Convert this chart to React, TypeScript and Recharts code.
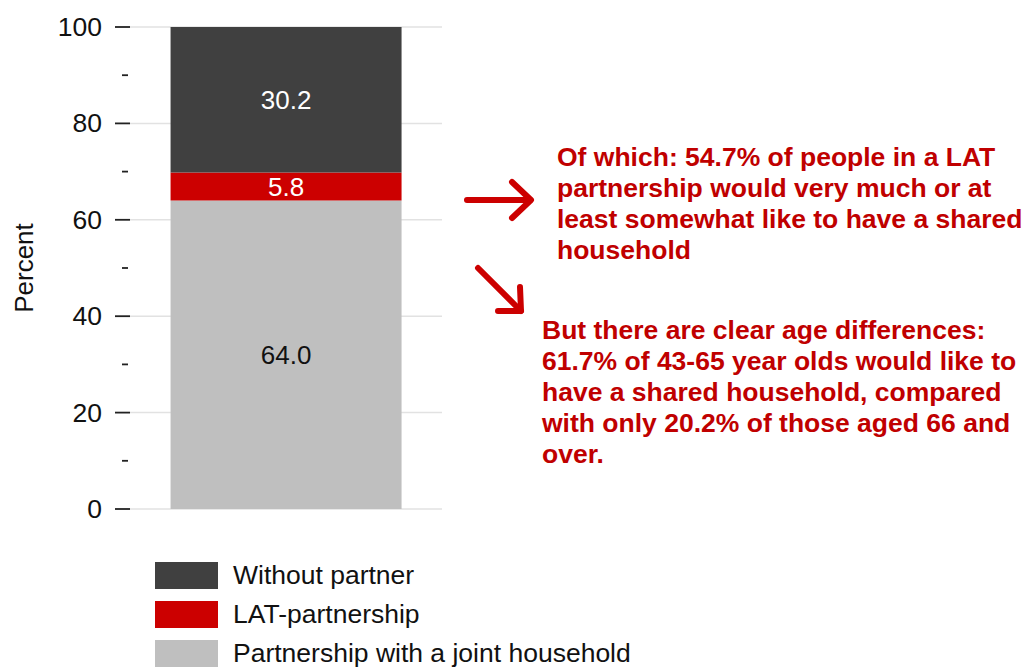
import { BarChart, Bar, XAxis, YAxis, CartesianGrid, LabelList } from 'recharts';

const categories = [''];
const withoutPartner = [30.2];
const latPartnership = [5.8];
const jointHousehold = [64.0];
const yTicks = [0, 10, 20, 30, 40, 50, 60, 70, 80, 90, 100];
const majorTicks = [0, 20, 40, 60, 80, 100];

const noteOne = [
  'Of which: 54.7% of people in a LAT',
  'partnership would very much or at',
  'least somewhat like to have a shared',
  'household',
];
const noteTwo = [
  'But there are clear age differences:',
  '61.7% of 43-65 year olds would like to',
  'have a shared household, compared',
  'with only 20.2% of those aged 66 and',
  'over.',
];

const colors = {
  without: '#404040',
  lat: '#cc0000',
  joint: '#bfbfbf',
};

const legendItems = [
  { label: 'Without partner', color: colors.without },
  { label: 'LAT-partnership', color: colors.lat },
  { label: 'Partnership with a joint household', color: colors.joint },
];

const data = categories.map((c, i) => ({
  name: c,
  joint: jointHousehold[i],
  lat: latPartnership[i],
  without: withoutPartner[i],
}));

const FONT = '"Liberation Sans", Arial, sans-serif';

// y axis tick: long dash + label for majors, short dash for minors
function YTick(props: any) {
  const { x, y, payload } = props;
  const v = payload.value;
  if (majorTicks.includes(v)) {
    return (
      <g>
        <line x1={x - 15} x2={x} y1={y} y2={y} stroke="#222" strokeWidth={1.8} />
        <text x={x - 28} y={y} dy={9} textAnchor="end" fontSize={26.5} fill="#111" fontFamily={FONT}>
          {v}
        </text>
      </g>
    );
  }
  return <line x1={x - 8} x2={x - 2} y1={y} y2={y} stroke="#222" strokeWidth={1.8} />;
}

const fmt = (v: any) => Number(v).toFixed(1);

export default function App() {
  return (
    <div style={{ position: 'absolute', left: 0, top: 0, width: 1027, height: 669, background: '#fff', fontFamily: FONT }}>
      <BarChart
        width={1027}
        height={669}
        data={data}
        margin={{ top: 27, right: 585, bottom: 160, left: 50 }}
        barCategoryGap="13%"
      >
        <CartesianGrid vertical={false} horizontalValues={majorTicks} stroke="#e2e2e2" strokeWidth={1.5} />
        <XAxis dataKey="name" hide />
        <YAxis
          width={80}
          domain={[0, 100]}
          ticks={yTicks}
          interval={0}
          axisLine={false}
          tickLine={false}
          tickSize={0}
          tickMargin={0}
          tick={<YTick />}
        />
        <Bar dataKey="joint" stackId="a" fill={colors.joint} isAnimationActive={false}>
          <LabelList dataKey="joint" position="center" fill="#111" fontSize={26} fontFamily={FONT} formatter={fmt} />
        </Bar>
        <Bar dataKey="lat" stackId="a" fill={colors.lat} isAnimationActive={false}>
          <LabelList dataKey="lat" position="center" fill="#fff" fontSize={26} fontFamily={FONT} formatter={fmt} />
        </Bar>
        <Bar dataKey="without" stackId="a" fill={colors.without} isAnimationActive={false}>
          <LabelList dataKey="without" position="center" fill="#fff" fontSize={26} fontFamily={FONT} formatter={fmt} />
        </Bar>
      </BarChart>

      <svg width={1027} height={669} style={{ position: 'absolute', left: 0, top: 0, pointerEvents: 'none' }}>
        <text x={33} y={268} transform="rotate(-90 33 268)" textAnchor="middle" fontSize={26} fill="#111" fontFamily={FONT}>
          Percent
        </text>
        <g stroke={colors.lat} strokeWidth={6} strokeLinecap="round" strokeLinejoin="round" fill="none">
          <line x1={467} y1={200} x2={530} y2={200} />
          <polyline points="512,182 531,200 512,218" />
          <line x1={478} y1={268} x2={521} y2={311} />
          <polyline points="520,287 521,311 498,311" />
        </g>
      </svg>

      {/* legend */}
      <div style={{ position: 'absolute', left: 155, top: 562 }}>
        {legendItems.map((it) => (
          <div key={it.label} style={{ display: 'flex', alignItems: 'center', height: 27, marginBottom: 12 }}>
            <div style={{ width: 63, height: 27, background: it.color }} />
            <span style={{ marginLeft: 15, fontSize: 26.5, color: '#111', whiteSpace: 'nowrap' }}>{it.label}</span>
          </div>
        ))}
      </div>

      <div style={{ position: 'absolute', left: 557, top: 142, color: '#c00000', fontWeight: 'bold', fontSize: 26.5, lineHeight: '31px', whiteSpace: 'nowrap' }}>
        {noteOne.map((l) => <div key={l}>{l}</div>)}
      </div>
      <div style={{ position: 'absolute', left: 542, top: 315, color: '#c00000', fontWeight: 'bold', fontSize: 26.5, lineHeight: '31px', whiteSpace: 'nowrap' }}>
        {noteTwo.map((l) => <div key={l}>{l}</div>)}
      </div>
    </div>
  );
}
